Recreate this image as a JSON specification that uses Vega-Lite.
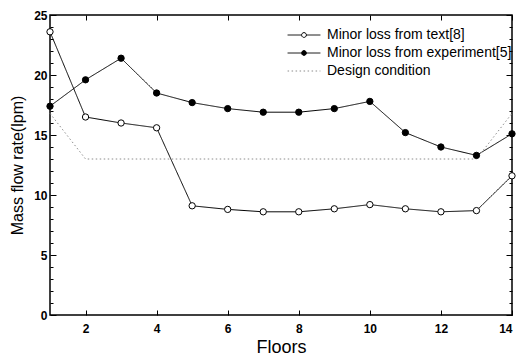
{
  "$schema": "https://vega.github.io/schema/vega-lite/v6.json",
  "width": 462,
  "height": 300,
  "autosize": {"type": "none"},
  "padding": {"left": 50, "top": 15, "right": 18, "bottom": 43},
  "background": "white",
  "config": {
    "font": "Liberation Sans",
    "view": {"stroke": "black", "strokeWidth": 1.5},
    "axis": {
      "domain": false,
      "grid": false,
      "tickColor": "black",
      "tickWidth": 1,
      "labelColor": "black",
      "labelFont": "Liberation Sans",
      "labelFontSize": 12,
      "labelFontWeight": "bold",
      "titleColor": "black",
      "titleFont": "Liberation Sans",
      "titleFontWeight": "normal"
    }
  },
  "data": {
    "values": [
      {"floor": 1, "flow": 23.6, "series": "Minor loss from text"},
      {"floor": 2, "flow": 16.5, "series": "Minor loss from text"},
      {"floor": 3, "flow": 16.0, "series": "Minor loss from text"},
      {"floor": 4, "flow": 15.6, "series": "Minor loss from text"},
      {"floor": 5, "flow": 9.1, "series": "Minor loss from text"},
      {"floor": 6, "flow": 8.8, "series": "Minor loss from text"},
      {"floor": 7, "flow": 8.6, "series": "Minor loss from text"},
      {"floor": 8, "flow": 8.6, "series": "Minor loss from text"},
      {"floor": 9, "flow": 8.85, "series": "Minor loss from text"},
      {"floor": 10, "flow": 9.2, "series": "Minor loss from text"},
      {"floor": 11, "flow": 8.85, "series": "Minor loss from text"},
      {"floor": 12, "flow": 8.6, "series": "Minor loss from text"},
      {"floor": 13, "flow": 8.7, "series": "Minor loss from text"},
      {"floor": 14, "flow": 11.6, "series": "Minor loss from text"},
      {"floor": 1, "flow": 17.4, "series": "Minor loss from experiment"},
      {"floor": 2, "flow": 19.6, "series": "Minor loss from experiment"},
      {"floor": 3, "flow": 21.4, "series": "Minor loss from experiment"},
      {"floor": 4, "flow": 18.5, "series": "Minor loss from experiment"},
      {"floor": 5, "flow": 17.7, "series": "Minor loss from experiment"},
      {"floor": 6, "flow": 17.2, "series": "Minor loss from experiment"},
      {"floor": 7, "flow": 16.9, "series": "Minor loss from experiment"},
      {"floor": 8, "flow": 16.9, "series": "Minor loss from experiment"},
      {"floor": 9, "flow": 17.2, "series": "Minor loss from experiment"},
      {"floor": 10, "flow": 17.8, "series": "Minor loss from experiment"},
      {"floor": 11, "flow": 15.2, "series": "Minor loss from experiment"},
      {"floor": 12, "flow": 14.0, "series": "Minor loss from experiment"},
      {"floor": 13, "flow": 13.3, "series": "Minor loss from experiment"},
      {"floor": 14, "flow": 15.1, "series": "Minor loss from experiment"},
      {"floor": 1, "flow": 16.8, "series": "Design condition"},
      {"floor": 2, "flow": 13.0, "series": "Design condition"},
      {"floor": 3, "flow": 13.0, "series": "Design condition"},
      {"floor": 4, "flow": 13.0, "series": "Design condition"},
      {"floor": 5, "flow": 13.0, "series": "Design condition"},
      {"floor": 6, "flow": 13.0, "series": "Design condition"},
      {"floor": 7, "flow": 13.0, "series": "Design condition"},
      {"floor": 8, "flow": 13.0, "series": "Design condition"},
      {"floor": 9, "flow": 13.0, "series": "Design condition"},
      {"floor": 10, "flow": 13.0, "series": "Design condition"},
      {"floor": 11, "flow": 13.0, "series": "Design condition"},
      {"floor": 12, "flow": 13.0, "series": "Design condition"},
      {"floor": 13, "flow": 13.0, "series": "Design condition"},
      {"floor": 14, "flow": 16.8, "series": "Design condition"}
    ]
  },
  "layer": [
    {
      "mark": {"type": "line", "strokeWidth": 1},
      "encoding": {
        "x": {
          "field": "floor",
          "type": "quantitative",
          "scale": {"domain": [1, 14], "nice": false, "zero": false},
          "axis": {
            "orient": "bottom",
            "values": [2, 4, 6, 8, 10, 12, 14],
            "tickSize": -5,
            "labelPadding": 13,
            "title": "Floors",
            "titleFontSize": 18,
            "titlePadding": 4
          }
        },
        "y": {
          "field": "flow",
          "type": "quantitative",
          "scale": {"domain": [0, 25], "nice": false},
          "axis": {
            "orient": "left",
            "values": [0, 1, 2, 3, 4, 5, 6, 7, 8, 9, 10, 11, 12, 13, 14, 15, 16, 17, 18, 19, 20, 21, 22, 23, 24, 25],
            "labelExpr": "datum.value % 5 === 0 ? datum.label : ''",
            "tickSize": {"condition": {"test": "datum.value % 5 === 0", "value": -6}, "value": -3},
            "labelPadding": 9,
            "title": "Mass flow rate(lpm)",
            "titleFontSize": 16,
            "titlePadding": 8
          }
        },
        "color": {
          "field": "series",
          "type": "nominal",
          "scale": {
            "domain": ["Minor loss from text", "Minor loss from experiment", "Design condition"],
            "range": ["black", "black", "#8c8c8c"]
          },
          "legend": {
            "orient": "none",
            "legendX": 247,
            "legendY": 13,
            "title": null,
            "padding": 0,
            "rowPadding": 4,
            "symbolType": "M-4.1,0H-0.6M0.6,0H4.1M0.6,0A0.6,0.6 0 1 1 -0.6,0A0.6,0.6 0 1 1 0.6,0",
            "symbolSize": 64,
            "symbolStrokeWidth": 1,
            "labelFont": "Liberation Sans",
            "labelFontSize": 14,
            "labelColor": "black",
            "labelOffset": 16,
            "labelLimit": 300,
            "labelExpr": "datum.label === 'Minor loss from text' ? 'Minor loss from text[8]' : datum.label === 'Minor loss from experiment' ? 'Minor loss from experiment[5]' : datum.label",
            "encode": {
              "symbols": {
                "update": {
                  "shape": {"signal": "datum.value === 'Design condition' ? 'M-4.1,0H4.1' : 'M-4.1,0H-0.6M0.6,0H4.1M0.6,0A0.6,0.6 0 1 1 -0.6,0A0.6,0.6 0 1 1 0.6,0'"},
                  "fill": {"signal": "datum.value === 'Minor loss from experiment' ? 'black' : 'white'"}
                }
              }
            }
          }
        },
        "strokeDash": {
          "field": "series",
          "type": "nominal",
          "scale": {
            "domain": ["Minor loss from text", "Minor loss from experiment", "Design condition"],
            "range": [[1, 0], [1, 0], [1.5, 2.5]]
          },
          "legend": {
            "orient": "none",
            "legendX": 247,
            "legendY": 13,
            "title": null,
            "padding": 0,
            "rowPadding": 4,
            "symbolType": "M-4.1,0H-0.6M0.6,0H4.1M0.6,0A0.6,0.6 0 1 1 -0.6,0A0.6,0.6 0 1 1 0.6,0",
            "symbolSize": 64,
            "symbolStrokeWidth": 1,
            "labelFont": "Liberation Sans",
            "labelFontSize": 14,
            "labelColor": "black",
            "labelOffset": 16,
            "labelLimit": 300,
            "labelExpr": "datum.label === 'Minor loss from text' ? 'Minor loss from text[8]' : datum.label === 'Minor loss from experiment' ? 'Minor loss from experiment[5]' : datum.label",
            "encode": {
              "symbols": {
                "update": {
                  "shape": {"signal": "datum.value === 'Design condition' ? 'M-4.1,0H4.1' : 'M-4.1,0H-0.6M0.6,0H4.1M0.6,0A0.6,0.6 0 1 1 -0.6,0A0.6,0.6 0 1 1 0.6,0'"},
                  "fill": {"signal": "datum.value === 'Minor loss from experiment' ? 'black' : 'white'"}
                }
              }
            }
          }
        }
      }
    },
    {
      "transform": [{"filter": "datum.series !== 'Design condition'"}],
      "mark": {"type": "point", "shape": "circle", "filled": true, "size": 40, "stroke": "black", "strokeWidth": 1, "opacity": 1},
      "encoding": {
        "x": {
          "field": "floor",
          "type": "quantitative",
          "axis": {"orient": "top", "values": [2, 4, 6, 8, 10, 12, 14], "tickSize": -5, "labels": false, "title": null}
        },
        "y": {
          "field": "flow",
          "type": "quantitative",
          "axis": {
            "orient": "right",
            "values": [0, 1, 2, 3, 4, 5, 6, 7, 8, 9, 10, 11, 12, 13, 14, 15, 16, 17, 18, 19, 20, 21, 22, 23, 24, 25],
            "tickSize": {"condition": {"test": "datum.value % 5 === 0", "value": -6}, "value": -3},
            "labels": false,
            "title": null
          }
        },
        "fill": {
          "condition": {"test": "datum.series === 'Minor loss from experiment'", "value": "black"},
          "value": "white"
        }
      }
    }
  ],
  "resolve": {"axis": {"x": "independent", "y": "independent"}}
}
